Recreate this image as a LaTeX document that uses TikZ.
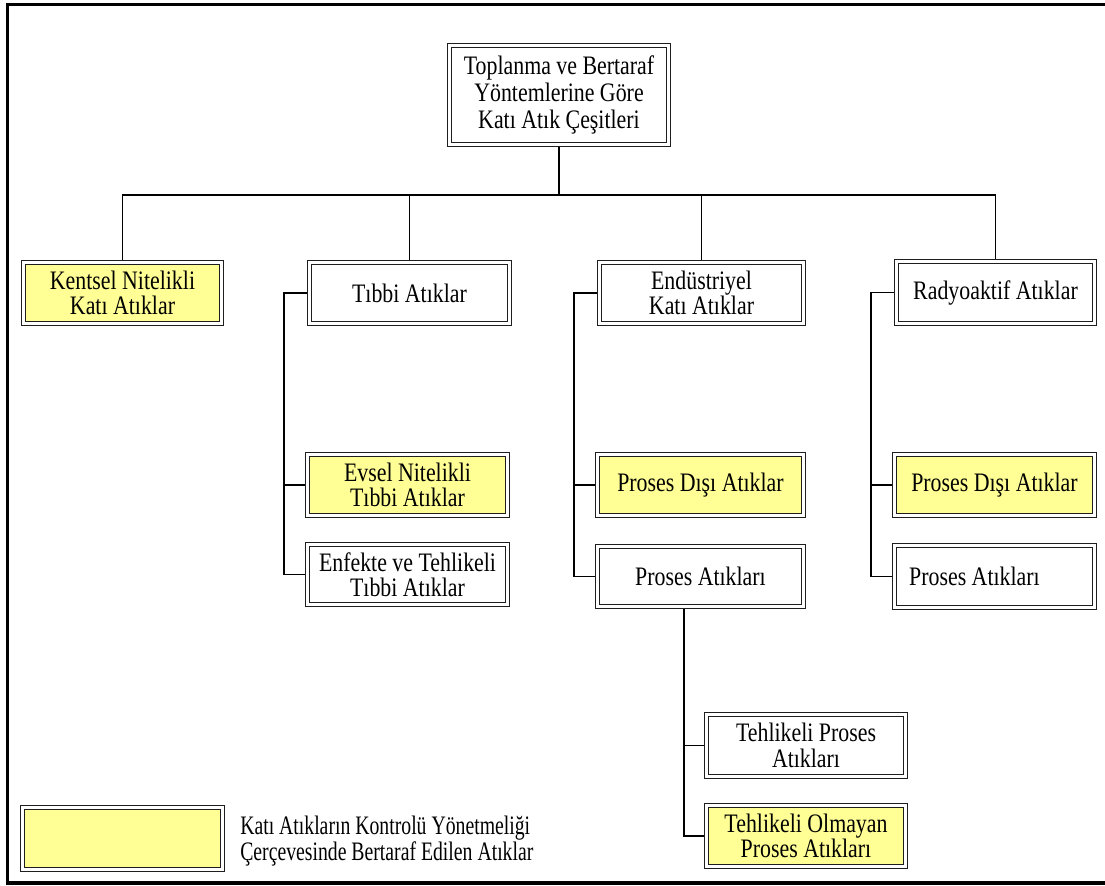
\documentclass[tikz,border=0pt]{standalone}
\usepackage{fontspec}
\setmainfont{Liberation Serif}[FakeStretch=0.82]
\newfontfamily\legendfont{Liberation Serif}[FakeStretch=0.74]
\definecolor{hlyellow}{RGB}{255,255,150}
\definecolor{edge}{RGB}{30,30,30}
\begin{document}
\begin{tikzpicture}[x=0.75pt,y=-0.75pt,
  box/.style={draw=edge, line width=1.1pt, double=white, double distance=1.8pt,
    outer sep=2pt, inner sep=0pt, align=center, fill=white,
    font=\fontsize{20}{19}\selectfont},
  hl/.style={box, fill=hlyellow},
  sz/.style 2 args={minimum width=#1*0.75pt-4pt, minimum height=#2*0.75pt-4pt},
  link/.style={draw=black, line width=1.1pt}]
\useasboundingbox (0,0) rectangle (1105,885);

% page frame
\draw[line width=2.3pt, line cap=rect] (1105,4.5) -- (7.5,4.5) -- (7.5,883) -- (1105,883);

% root
\node[box, sz={224}{104}, font=\fontsize{20}{20.5}\selectfont] (top) at (559,95)
  {Toplanma ve Bertaraf\\Yöntemlerine Göre\\Katı Atık Çeşitleri};

% first level
\node[hl, sz={203}{66}]  (kentsel) at (122.5,293) {Kentsel Nitelikli\\Katı Atıklar};
\node[box, sz={205}{66}] (tibbi)   at (409.5,293) {Tıbbi Atıklar};
\node[box, sz={209}{66}] (endus)   at (701.5,293) {Endüstriyel\\Katı Atıklar};
\node[box, sz={203}{67}] (radyo)   at (995.5,292.5) {Radyoaktif Atıklar};

% medical waste
\node[hl, sz={205}{66}]  (evsel)   at (407.5,485) {Evsel Nitelikli\\Tıbbi Atıklar};
\node[box, sz={205}{65}] (enfekte) at (407.5,574.5) {Enfekte ve Tehlikeli\\Tıbbi Atıklar};

% industrial waste
\node[hl, sz={211}{66}]  (disiE) at (700.5,485) {Proses Dışı Atıklar};
\node[box, sz={211}{65}] (prosE) at (700.5,576.5) {Proses Atıkları};

% radioactive waste
\node[hl, sz={205}{66}]  (disiR) at (994.5,485) {Proses Dışı Atıklar};
\node[box, sz={205}{67}] (prosR) at (994.5,576.5)
  {\makebox[128pt][l]{Proses Atıkları}};

% process waste
\node[box, sz={204}{67}] (tp)   at (806,745.5) {Tehlikeli Proses\\Atıkları};
\node[hl, sz={204}{66}]  (tolm) at (806,836) {Tehlikeli Olmayan\\Proses Atıkları};

% legend
\node[hl, sz={205}{67}] (key) at (122.5,838.5) {};
\node[anchor=west, align=left, inner sep=0pt,
  font=\legendfont\fontsize{20}{19.5}\selectfont] (keytext) at (240,841)
  {Katı Atıkların Kontrolü Yönetmeliği\\Çerçevesinde Bertaraf Edilen Atıklar};

% connectors
\coordinate (bus) at (0,195);
\coordinate (tx) at (284,0);
\coordinate (ex) at (574,0);
\coordinate (rx) at (871,0);
\coordinate (px) at (684,0);

\draw[link] (top.south) -- (top.south |- bus);
\draw[link] (kentsel.north) |- (radyo.north |- bus) -- (radyo.north);
\draw[link] (tibbi.north) -- (tibbi.north |- bus);
\draw[link] (endus.north) -- (endus.north |- bus);

\draw[link] (tibbi.west) -| (tx |- enfekte.west) -- (enfekte.west);
\draw[link] (tx |- evsel.west) -- (evsel.west);

\draw[link] (endus.west) -| (ex |- prosE.west) -- (prosE.west);
\draw[link] (ex |- disiE.west) -- (disiE.west);

\draw[link] (radyo.west) -| (rx |- prosR.west) -- (prosR.west);
\draw[link] (rx |- disiR.west) -- (disiR.west);

\draw[link] (prosE.south -| px) -- (px |- tolm.west) -- (tolm.west);
\draw[link] (px |- tp.west) -- (tp.west);
\end{tikzpicture}
\end{document}
